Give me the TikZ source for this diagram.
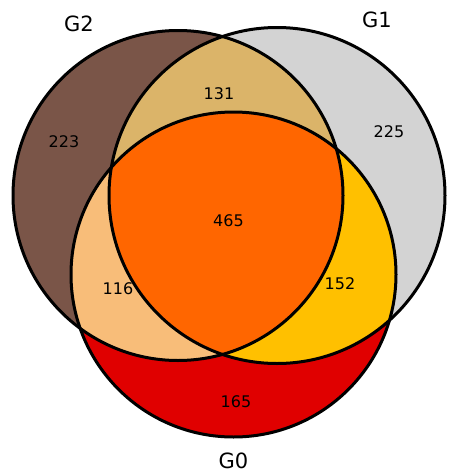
\documentclass[tikz,border=0pt]{standalone}
\usepackage{fontspec}
\setmainfont{DejaVu Sans}
\definecolor{cbrown}{HTML}{7A5548}
\definecolor{cgray}{HTML}{D3D3D3}
\definecolor{cred}{HTML}{E00000}
\definecolor{ctan}{HTML}{DBB469}
\definecolor{clor}{HTML}{F8BD79}
\definecolor{camber}{HTML}{FFC000}
\definecolor{corange}{HTML}{FF6600}
\tikzset{
  num/.style={font=\fontsize{16}{18}\selectfont, inner sep=0pt},
  setlabel/.style={font=\fontsize{21}{24}\selectfont, inner sep=0pt},
  outline/.style={draw=black, line width=3pt}
}
\begin{document}
\begin{tikzpicture}[x=1pt,y=-1pt]
\useasboundingbox (0,0) rectangle (456,474);
\coordinate (c2) at (178,195.5);
\coordinate (c1) at (277,195.5);
\coordinate (c0) at (233.5,274.5);
\def\rtwo{165}
\def\rone{168}
\def\rzero{162.5}
% base fills
\fill[cbrown] (c2) circle (\rtwo);
\fill[cgray] (c1) circle (\rone);
\fill[cred] (c0) circle (\rzero);
% pairwise intersections
\begin{scope}
  \clip (c2) circle (\rtwo);
  \fill[ctan] (c1) circle (\rone);
  \fill[clor] (c0) circle (\rzero);
\end{scope}
\begin{scope}
  \clip (c1) circle (\rone);
  \fill[camber] (c0) circle (\rzero);
\end{scope}
\begin{scope}
  \clip (c2) circle (\rtwo);
  \clip (c1) circle (\rone);
  \fill[corange] (c0) circle (\rzero);
\end{scope}
% outlines
\draw[outline] (c2) circle (\rtwo);
\draw[outline] (c1) circle (\rone);
\draw[outline] (c0) circle (\rzero);
% counts
\node[num] (n223) at (64,141.5) {223};
\node[num] (n131) at (219,93.5) {131};
\node[num] (n225) at (389,131.5) {225};
\node[num] (n465) at (228.5,221) {465};
\node[num] (n116) at (118,289) {116};
\node[num] (n152) at (340,283.5) {152};
\node[num] (n165) at (236,402) {165};
% set labels
\node[setlabel] (g2) at (79,23.5) {G2};
\node[setlabel] (g1) at (377,20) {G1};
\node[setlabel] (g0) at (233.5,461) {G0};
\end{tikzpicture}
\end{document}
